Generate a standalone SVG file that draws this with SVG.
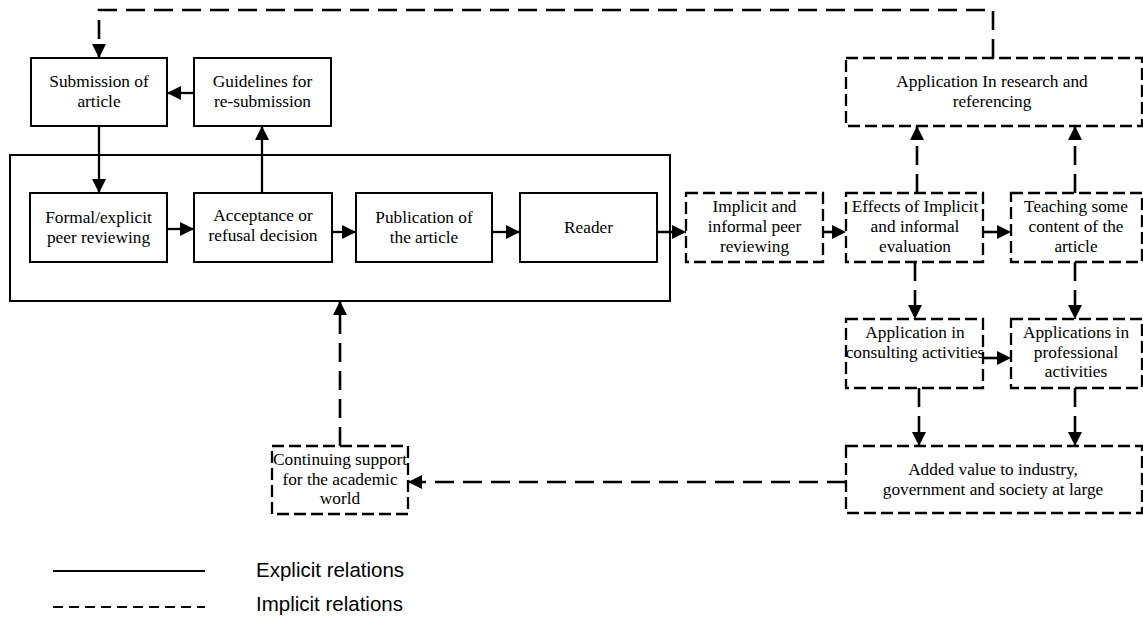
<svg xmlns="http://www.w3.org/2000/svg" width="1143" height="618" viewBox="0 0 1143 618">
  <style>
    .box { fill: #ffffff; stroke: #000; stroke-width: 2; }
    .dbox { fill: #ffffff; stroke: #000; stroke-width: 2.3; stroke-dasharray: 12 5; }
    .frame { fill: none; stroke: #000; stroke-width: 2; }
    .lbl { font-family: "Liberation Serif", "Times New Roman", serif; font-size: 17.3px; fill: #000; text-anchor: middle; }
    .leg { font-family: "Liberation Sans", Arial, sans-serif; font-size: 20.5px; fill: #000; }
    .solid { fill: none; stroke: #000; stroke-width: 2.3; }
    .dash { fill: none; stroke: #000; stroke-width: 2.6; stroke-dasharray: 19 9; }
    .legdash { fill: none; stroke: #000; stroke-width: 2; stroke-dasharray: 10 6; }
  </style>
  <defs>
    <marker id="arrow" viewBox="0 0 12 12" refX="12" refY="6" markerWidth="15" markerHeight="14" markerUnits="userSpaceOnUse" orient="auto">
      <path d="M0,0 L12,6 L0,12 Z" fill="#000"/>
    </marker>
  </defs>

  <rect width="1143" height="618" fill="#ffffff"/>

  <!-- frame around the explicit publishing chain -->
  <rect id="chain-frame" class="frame" x="10" y="155" width="660" height="146"/>

  <!-- explicit (solid) nodes -->
  <g id="submission">
    <rect class="box" x="31" y="58" width="136" height="68"/>
    <text class="lbl" x="99" y="87">Submission of</text>
    <text class="lbl" x="99" y="107">article</text>
  </g>
  <g id="guidelines">
    <rect class="box" x="194" y="58" width="137" height="68"/>
    <text class="lbl" x="262.5" y="87">Guidelines for</text>
    <text class="lbl" x="262.5" y="107">re-submission</text>
  </g>
  <g id="formal-review">
    <rect class="box" x="30" y="193" width="137" height="69"/>
    <text class="lbl" x="98.5" y="223">Formal/explicit</text>
    <text class="lbl" x="98.5" y="243">peer reviewing</text>
  </g>
  <g id="decision">
    <rect class="box" x="194" y="193" width="138" height="69"/>
    <text class="lbl" x="263" y="221">Acceptance or</text>
    <text class="lbl" x="263" y="241">refusal decision</text>
  </g>
  <g id="publication">
    <rect class="box" x="356" y="193" width="136" height="69"/>
    <text class="lbl" x="424" y="223">Publication of</text>
    <text class="lbl" x="424" y="243">the article</text>
  </g>
  <g id="reader">
    <rect class="box" x="520" y="193" width="137" height="69"/>
    <text class="lbl" x="588.5" y="233">Reader</text>
  </g>

  <!-- implicit (dashed) nodes -->
  <g id="research">
    <rect class="dbox" x="846" y="58" width="296" height="68"/>
    <text class="lbl" x="992" y="87">Application In research and</text>
    <text class="lbl" x="992" y="107">referencing</text>
  </g>
  <g id="informal-review">
    <rect class="dbox" x="686" y="193" width="137" height="69"/>
    <text class="lbl" x="754.5" y="212">Implicit and</text>
    <text class="lbl" x="754.5" y="232">informal peer</text>
    <text class="lbl" x="754.5" y="252">reviewing</text>
  </g>
  <g id="effects">
    <rect class="dbox" x="846" y="193" width="137" height="69"/>
    <text class="lbl" x="915" y="212">Effects of Implicit</text>
    <text class="lbl" x="915" y="232">and informal</text>
    <text class="lbl" x="915" y="252">evaluation</text>
  </g>
  <g id="teaching">
    <rect class="dbox" x="1011" y="193" width="131" height="69"/>
    <text class="lbl" x="1076" y="212">Teaching some</text>
    <text class="lbl" x="1076" y="232">content of the</text>
    <text class="lbl" x="1076" y="252">article</text>
  </g>
  <g id="consulting">
    <rect class="dbox" x="846" y="319" width="137" height="69"/>
    <text class="lbl" x="915" y="338">Application in</text>
    <text class="lbl" x="915" y="358">consulting activities</text>
  </g>
  <g id="professional">
    <rect class="dbox" x="1011" y="319" width="131" height="69"/>
    <text class="lbl" x="1076" y="338">Applications in</text>
    <text class="lbl" x="1076" y="358">professional</text>
    <text class="lbl" x="1076" y="377">activities</text>
  </g>
  <g id="added-value">
    <rect class="dbox" x="846" y="446" width="296" height="67"/>
    <text class="lbl" x="993" y="475">Added value to industry,</text>
    <text class="lbl" x="993" y="495">government and society at large</text>
  </g>
  <g id="academic-support">
    <rect class="dbox" x="272" y="446" width="136" height="68"/>
    <text class="lbl" x="340" y="465">Continuing support</text>
    <text class="lbl" x="340" y="485">for the academic</text>
    <text class="lbl" x="340" y="504">world</text>
  </g>

  <!-- connectors -->
  <g id="connectors">
    <!-- explicit relations -->
    <path class="solid" d="M194,93 H167" marker-end="url(#arrow)"/>
    <path class="solid" d="M99,126 V193" marker-end="url(#arrow)"/>
    <path class="solid" d="M262,193 V126" marker-end="url(#arrow)"/>
    <path class="solid" d="M167,229 H194" marker-end="url(#arrow)"/>
    <path class="solid" d="M332,232 H356" marker-end="url(#arrow)"/>
    <path class="solid" d="M492,232 H520" marker-end="url(#arrow)"/>

    <!-- implicit relations -->
    <path class="dash" d="M657,232 H686" marker-end="url(#arrow)"/>
    <path class="dash" d="M823,232 H846" marker-end="url(#arrow)"/>
    <path class="dash" d="M983,232 H1011" marker-end="url(#arrow)"/>
    <path class="dash" d="M917,193 V126" marker-end="url(#arrow)"/>
    <path class="dash" d="M1075,193 V126" marker-end="url(#arrow)"/>
    <path class="dash" d="M915,262 V319" marker-end="url(#arrow)"/>
    <path class="dash" d="M1075,262 V319" marker-end="url(#arrow)"/>
    <path class="dash" d="M983,358 H1011" marker-end="url(#arrow)"/>
    <path class="dash" d="M919,388 V446" marker-end="url(#arrow)"/>
    <path class="dash" d="M1075,388 V446" marker-end="url(#arrow)"/>
    <path class="dash" d="M993,58 V10 H99 V58" marker-end="url(#arrow)"/>
    <path class="dash" d="M846,482 H408" marker-end="url(#arrow)"/>
    <path class="dash" d="M340,446 V301" marker-end="url(#arrow)"/>
  </g>

  <!-- legend -->
  <g id="legend">
    <line class="solid" x1="53" y1="571" x2="205" y2="571" style="stroke-width:2"/>
    <line class="legdash" x1="53" y1="607" x2="205" y2="607"/>
    <text class="leg" x="256" y="577">Explicit relations</text>
    <text class="leg" x="256" y="611">Implicit relations</text>
  </g>
</svg>
